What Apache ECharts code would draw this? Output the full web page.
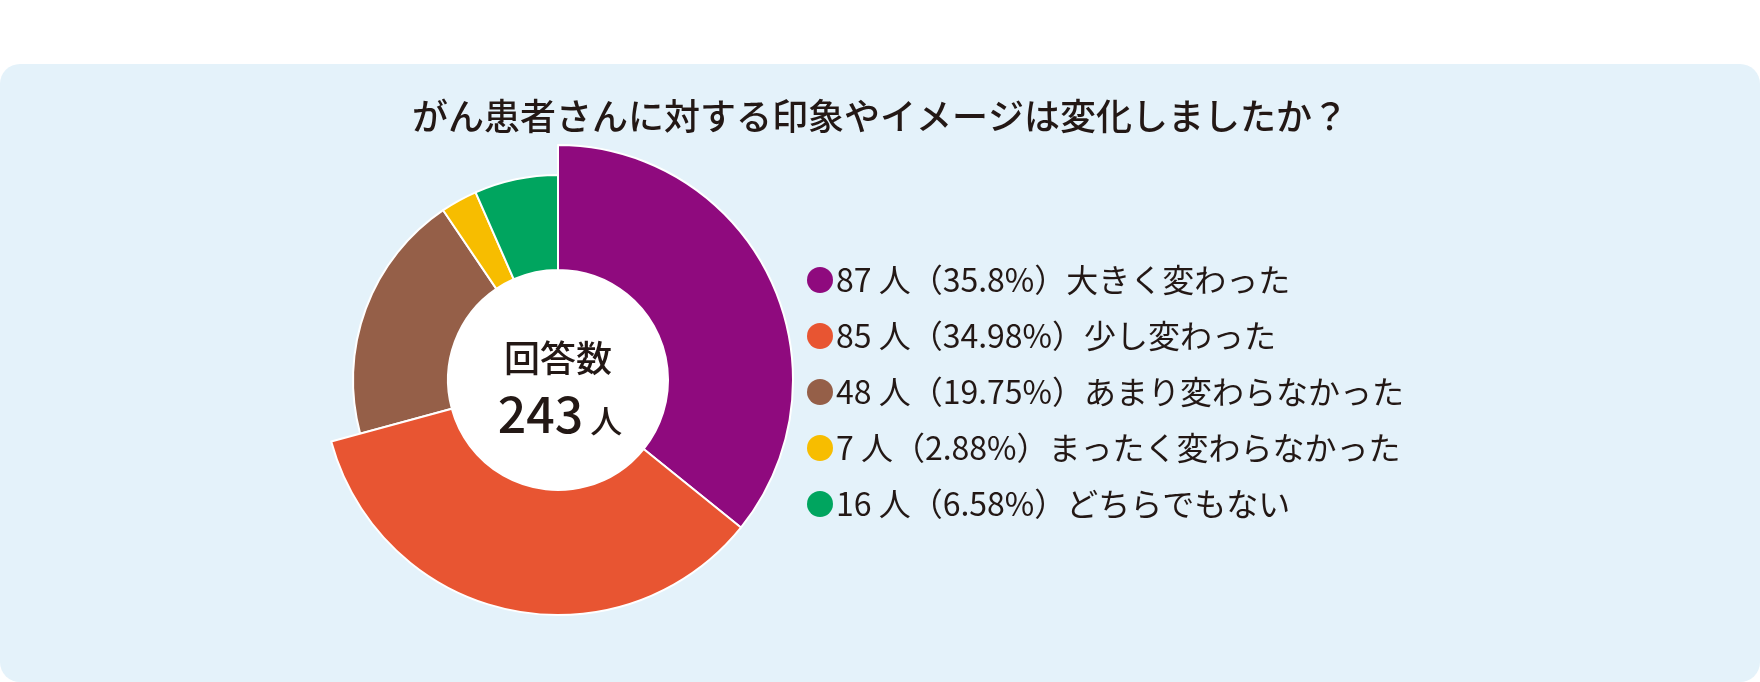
<!DOCTYPE html>
<html>
<head>
<meta charset="utf-8">
<script src="https://cdn.jsdelivr.net/npm/echarts@6/dist/echarts.min.js"></script>
<style>
html,body{margin:0;padding:0;background:#ffffff;}
#chart{width:1760px;height:682px;}
</style>
</head>
<body>
<div id="chart"></div>
<script>
// ---- data ----
const titleText = 'がん患者さんに対する印象やイメージは変化しましたか？';
const categories = ['大きく変わった', '少し変わった', 'あまり変わらなかった', 'まったく変わらなかった', 'どちらでもない'];
const counts = [87, 85, 48, 7, 16];
const percentLabels = ['35.8', '34.98', '19.75', '2.88', '6.58'];
const centerLabel = '回答数';
const unitLabel = '人';

// ---- styles ----
const colors = ['#8f0a7e', '#e85532', '#955f48', '#f7bd00', '#00a55f'];
const textColor = '#231815';
const font = '"Noto Sans CJK JP", "Noto Sans CJK SC", sans-serif';
const total = counts.reduce((a, b) => a + b, 0);
const bigThreshold = 80; // slices above this are drawn with the larger outer radius
const center = [558, 380];
const innerR = 110;

function seriesData(bigGroup) {
  return categories.map((name, i) => {
    const visible = (counts[i] >= bigThreshold) === bigGroup;
    return {
      name: name,
      value: counts[i],
      itemStyle: visible
        ? { color: colors[i], borderColor: '#ffffff', borderWidth: 2 }
        : { color: 'rgba(0,0,0,0)', borderWidth: 0 }
    };
  });
}

const chart = echarts.init(document.getElementById('chart'), null, { renderer: 'canvas' });
chart.setOption({
  backgroundColor: '#ffffff',
  animation: false,
  title: {
    text: titleText,
    left: 'center',
    top: 97,
    padding: 0,
    textStyle: { fontFamily: font, fontSize: 36, fontWeight: 500, color: textColor, lineHeight: 38 }
  },
  graphic: [
    { type: 'rect', z: -10, silent: true, shape: { x: 0, y: 64, width: 1760, height: 618, r: 20 }, style: { fill: '#e4f2fa' } },
    { type: 'circle', z: -5, silent: true, shape: { cx: center[0], cy: center[1], r: innerR + 1 }, style: { fill: '#ffffff' } },
    {
      type: 'text', z: 10, silent: true, x: center[0], y: 358,
      style: { text: centerLabel, fontFamily: font, fontSize: 36, fontWeight: 500, fill: textColor, align: 'center', verticalAlign: 'middle' }
    },
    {
      type: 'text', z: 10, silent: true, x: center[0] + 2, y: 414,
      style: {
        text: '{n|' + total + '}{u| ' + unitLabel + '}',
        align: 'center', verticalAlign: 'middle',
        rich: {
          n: { fontFamily: font, fontSize: 50, fontWeight: 500, fill: textColor, color: textColor, lineHeight: 54 },
          u: { fontFamily: font, fontSize: 32, fontWeight: 500, fill: textColor, color: textColor, lineHeight: 54, verticalAlign: 'bottom', padding: [0, 0, 4, 0] }
        }
      }
    }
  ],
  legend: {
    orient: 'vertical',
    left: 807,
    top: 264,
    padding: 0,
    icon: 'circle',
    itemWidth: 26,
    itemHeight: 26,
    itemGap: 24,
    selectedMode: false,
    data: categories.map((name, i) => ({ name: name, itemStyle: { color: colors[i], borderWidth: 0 } })),
    formatter: function (name) {
      const i = categories.indexOf(name);
      return counts[i] + ' ' + unitLabel + '（' + percentLabels[i] + '%）' + name;
    },
    textStyle: { fontFamily: font, fontSize: 32, color: textColor, lineHeight: 32, padding: [0, 0, 0, -2] }
  },
  series: [
    {
      type: 'pie', name: 'small', center: center, radius: [innerR, 205], startAngle: 90, clockwise: true,
      label: { show: false }, labelLine: { show: false }, silent: true, z: 2,
      data: seriesData(false)
    },
    {
      type: 'pie', name: 'big', center: center, radius: [innerR, 235], startAngle: 90, clockwise: true,
      label: { show: false }, labelLine: { show: false }, silent: true, z: 3,
      data: seriesData(true)
    }
  ]
});
</script>
</body>
</html>
